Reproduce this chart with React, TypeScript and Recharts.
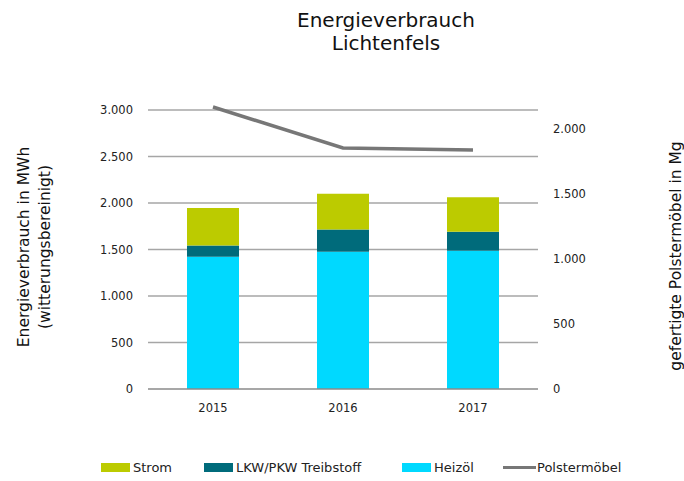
import {
  ComposedChart,
  Bar,
  Line,
  XAxis,
  YAxis,
  CartesianGrid,
} from "recharts";

const years = ["2015", "2016", "2017"];
const heizoel = [1421, 1475, 1486];
const treibstoff = [121, 239, 204];
const strom = [405, 384, 372];
const polstermoebel = [2169, 1854, 1838];

const leftTicks = [0, 500, 1000, 1500, 2000, 2500, 3000];
const rightTicks = [0, 500, 1000, 1500, 2000];
const boundaryTicks = [0, 1, 2, 3];
const LEFT_MAX = 3032;
const RIGHT_MAX = 2169;

const C_STROM = "#bccb00";
const C_LKW = "#006b7b";
const C_HEIZOEL = "#00d9ff";
const C_LINE = "#777777";
const C_GRID = "#a6a6a6";
const FONT = "'DejaVu Sans', Verdana, sans-serif";

const data = years.map((y, i) => ({
  year: y,
  heizoel: heizoel[i],
  treibstoff: treibstoff[i],
  strom: strom[i],
  polster: polstermoebel[i],
}));

function fmt(v: number): string {
  return String(v).replace(/\B(?=(\d{3})+(?!\d))/g, ".");
}

const tickStyle = { fontSize: 11.5, fill: "#222", fontFamily: FONT };

// grid rows only at the left axis ticks (domain top sits a little above 3.000)
// eslint-disable-next-line @typescript-eslint/no-explicit-any
function gridRows({ yAxis, offset }: any): number[] {
  const rows = leftTicks.filter((t) => t > 0);
  if (yAxis && typeof yAxis.scale === "function") return rows.map((t) => yAxis.scale(t));
  return rows.map((t) => offset.top + offset.height * (1 - t / LEFT_MAX));
}

// eslint-disable-next-line @typescript-eslint/no-explicit-any
function LeftLabel({ viewBox }: any) {
  const cy = viewBox.y + viewBox.height / 2 - 1;
  return (
    <g fontFamily={FONT} fontSize={15.5} fill="#111" textAnchor="middle">
      <text transform={`translate(29, ${cy}) rotate(-90)`}>Energieverbrauch in MWh</text>
      <text transform={`translate(50, ${cy}) rotate(-90)`}>(witterungsbereinigt)</text>
    </g>
  );
}

// eslint-disable-next-line @typescript-eslint/no-explicit-any
function RightLabel({ viewBox }: any) {
  const cy = viewBox.y + viewBox.height / 2 + 8;
  return (
    <text
      transform={`translate(681, ${cy}) rotate(-90)`}
      fontFamily={FONT}
      fontSize={15.5}
      fill="#111"
      textAnchor="middle"
    >
      gefertigte Polstermöbel in Mg
    </text>
  );
}

const legendItems = [
  { label: "Strom", color: C_STROM, type: "box", left: 101 },
  { label: "LKW/PKW Treibstoff", color: C_LKW, type: "box", left: 204 },
  { label: "Heizöl", color: C_HEIZOEL, type: "box", left: 402 },
  { label: "Polstermöbel", color: C_LINE, type: "line", left: 503 },
];

export default function App() {
  return (
    <div style={{ position: "absolute", left: 0, top: 0, width: 684, height: 481, background: "#fff", fontFamily: FONT }}>
      <div
        style={{
          position: "absolute",
          left: 286,
          width: 200,
          top: 9,
          textAlign: "center",
          fontSize: 20,
          lineHeight: "23px",
          color: "#111",
        }}
      >
        Energieverbrauch
        <br />
        Lichtenfels
      </div>
      <ComposedChart
        width={684}
        height={481}
        data={data}
        margin={{ top: 107, right: 0, left: 0, bottom: 61 }}
        barCategoryGap="30%"
      >
        <CartesianGrid
          xAxisId="b"
          yAxisId="left"
          vertical={false}
          stroke={C_GRID}
          strokeWidth={1.3}
          horizontalCoordinatesGenerator={gridRows}
        />
        <XAxis
          xAxisId="a"
          type="number"
          domain={[0, 3]}
          ticks={boundaryTicks}
          tick={false}
          tickSize={5}
          height={1}
          stroke="#8a8a8a"
          strokeWidth={1.3}
        />
        <XAxis
          xAxisId="b"
          dataKey="year"
          axisLine={false}
          tickLine={false}
          tickSize={0}
          tickMargin={14}
          height={30}
          tick={tickStyle}
        />
        <YAxis
          yAxisId="left"
          width={148}
          domain={[0, LEFT_MAX]}
          ticks={leftTicks}
          tickFormatter={fmt}
          axisLine={false}
          tickLine={false}
          tickSize={0}
          tickMargin={15}
          tick={tickStyle}
          label={<LeftLabel />}
        />
        <YAxis
          yAxisId="right"
          orientation="right"
          width={146}
          domain={[0, RIGHT_MAX]}
          ticks={rightTicks}
          tickFormatter={fmt}
          axisLine={false}
          tickLine={false}
          tickSize={0}
          tickMargin={15}
          tick={{ ...tickStyle, textAnchor: "start" }}
          label={<RightLabel />}
        />
        <Bar xAxisId="b" yAxisId="left" dataKey="heizoel" stackId="s" fill={C_HEIZOEL} isAnimationActive={false} />
        <Bar xAxisId="b" yAxisId="left" dataKey="treibstoff" stackId="s" fill={C_LKW} isAnimationActive={false} />
        <Bar xAxisId="b" yAxisId="left" dataKey="strom" stackId="s" fill={C_STROM} isAnimationActive={false} />
        <Line
          xAxisId="b"
          yAxisId="right"
          dataKey="polster"
          stroke={C_LINE}
          strokeWidth={3.5}
          dot={false}
          isAnimationActive={false}
        />
      </ComposedChart>
      {legendItems.map((it) => (
        <div
          key={it.label}
          style={{
            position: "absolute",
            left: it.left,
            top: 459,
            height: 17,
            display: "flex",
            alignItems: "center",
            fontSize: 13,
            color: "#222",
            whiteSpace: "nowrap",
          }}
        >
          <span
            style={{
              display: "inline-block",
              width: it.type === "box" ? 29 : 33,
              height: it.type === "box" ? 9 : 3,
              background: it.color,
              marginRight: it.type === "box" ? 3 : 1,
            }}
          />
          {it.label}
        </div>
      ))}
    </div>
  );
}
